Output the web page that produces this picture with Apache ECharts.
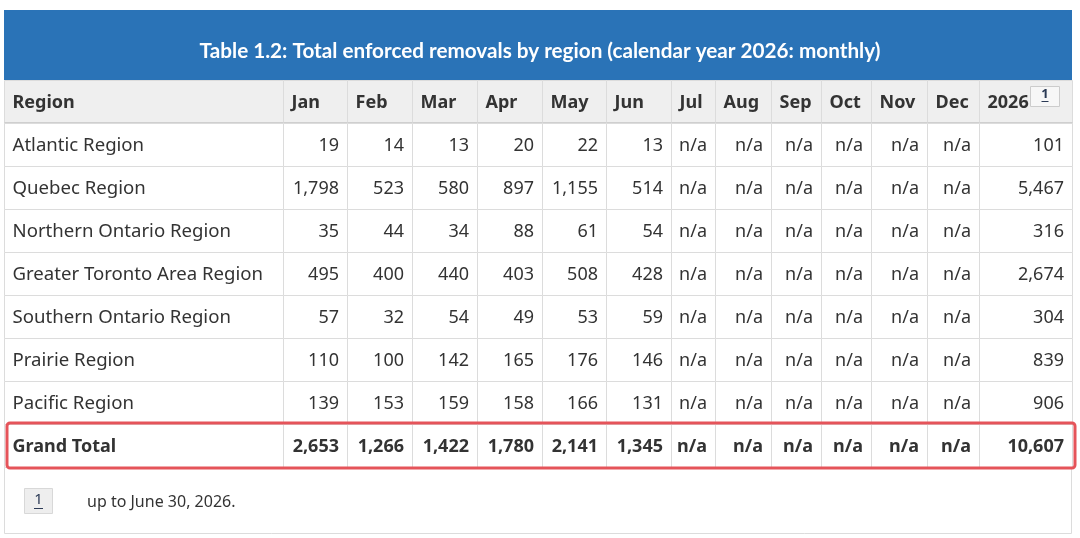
<!DOCTYPE html>
<html><head><meta charset="utf-8">
<script src="https://cdn.jsdelivr.net/npm/echarts@6/dist/echarts.min.js"></script>
<style>html,body{margin:0;padding:0;background:#fff}#c{width:1080px;height:538px}</style>
</head><body><div id="c"></div>
<script>
// ---------- data ----------
const titleText = 'Table 1.2: Total enforced removals by region (calendar year 2026: monthly)';
const firstHeader = 'Region';
const months = ['Jan','Feb','Mar','Apr','May','Jun','Jul','Aug','Sep','Oct','Nov','Dec'];
const yearHeader = '2026';
const regions = ['Atlantic Region','Quebec Region','Northern Ontario Region','Greater Toronto Area Region','Southern Ontario Region','Prairie Region','Pacific Region'];
// Jan..Dec (null = n/a)
const atlantic        = [19, 14, 13, 20, 22, 13, null, null, null, null, null, null];
const quebec          = [1798, 523, 580, 897, 1155, 514, null, null, null, null, null, null];
const northernOntario = [35, 44, 34, 88, 61, 54, null, null, null, null, null, null];
const greaterToronto  = [495, 400, 440, 403, 508, 428, null, null, null, null, null, null];
const southernOntario = [57, 32, 54, 49, 53, 59, null, null, null, null, null, null];
const prairie         = [110, 100, 142, 165, 176, 146, null, null, null, null, null, null];
const pacific         = [139, 153, 159, 158, 166, 131, null, null, null, null, null, null];
const yearTotals      = [101, 5467, 316, 2674, 304, 839, 906];
const totalLabel = 'Grand Total';
const grandTotal      = [2653, 1266, 1422, 1780, 2141, 1345, null, null, null, null, null, null];
const grandYearTotal  = 10607;
const footnoteMark = '1';
const footnoteText = 'up to June 30, 2026.';

// ---------- layout / style ----------
const colWidths = [279, 64, 65, 65, 65, 64, 65, 44, 56, 50, 50, 56, 52, 93];
const FONT = '"Noto Sans", "Open Sans", sans-serif';
const TEXT = '#333333';
const GRID_LINE = '#dcdcdc';
const colStart = [];
colWidths.reduce((acc, w, i) => { colStart[i] = acc; return acc + w; }, 0);
const totalWidth = colWidths.reduce((a, b) => a + b, 0);

const regionRows = [atlantic, quebec, northernOntario, greaterToronto, southernOntario, prairie, pacific];
const fmt = v => (v === null || v === undefined) ? 'n/a' : v.toLocaleString('en-US');

// cells: {col,row,text,kind}
const cells = [];
[firstHeader, ...months, yearHeader].forEach((h, i) => cells.push({col: i, row: 0, text: h, kind: 'head'}));
regions.forEach((r, ri) => {
  cells.push({col: 0, row: ri + 1, text: r, kind: 'label'});
  regionRows[ri].forEach((v, mi) => cells.push({col: mi + 1, row: ri + 1, text: fmt(v), kind: 'num'}));
  cells.push({col: 13, row: ri + 1, text: fmt(yearTotals[ri]), kind: 'num'});
});
const totRow = regions.length + 1;
cells.push({col: 0, row: totRow, text: totalLabel, kind: 'totlabel'});
grandTotal.forEach((v, mi) => cells.push({col: mi + 1, row: totRow, text: fmt(v), kind: 'totnum'}));
cells.push({col: 13, row: totRow, text: fmt(grandYearTotal), kind: 'totnum'});
const nRows = totRow + 1;

function renderCell(params, api) {
  const c = cells[params.dataIndex];
  const p0 = api.coord([colStart[c.col], c.row]);
  const p1 = api.coord([colStart[c.col] + colWidths[c.col], c.row + 1]);
  const x = Math.round(p0[0]) + 0.5, y = Math.round(p0[1]) + 0.5;
  const w = Math.round(p1[0]) - Math.round(p0[0]), h = Math.round(p1[1]) - Math.round(p0[1]);
  const isHead = c.kind === 'head';
  const bold = isHead || c.kind === 'totlabel' || c.kind === 'totnum';
  const rightAlign = c.kind === 'num' || c.kind === 'totnum';
  const children = [{
    type: 'rect',
    shape: {x: x, y: y, width: w, height: h},
    style: {fill: isHead ? '#efefef' : '#ffffff', stroke: GRID_LINE, lineWidth: 1}
  }, {
    type: 'text',
    style: {
      text: c.text,
      x: rightAlign ? x + w - 8.5 : x + 8,
      y: y + h / 2 + 1,
      align: rightAlign ? 'right' : 'left',
      verticalAlign: 'middle',
      fontFamily: FONT,
      fontSize: c.kind === 'label' ? 18.6 : 18,
      fontWeight: bold ? 'bold' : 'normal',
      fill: TEXT
    }
  }];
  if (isHead) {
    children.push({
      type: 'line',
      shape: {x1: x, y1: y + h - 0.5, x2: x + w, y2: y + h - 0.5},
      style: {stroke: '#cfcfcf', lineWidth: 2}
    });
  }
  if (isHead && c.col === 13) {
    // footnote reference box next to "2026"
    const bx = x + 51, by = y + 6;
    children.push({
      type: 'rect', shape: {x: bx, y: by, width: 29, height: 20},
      style: {fill: '#f7f7f7', stroke: '#cccccc', lineWidth: 1}
    }, {
      type: 'text',
      style: {text: footnoteMark, x: bx + 14.5, y: by + 8, align: 'center', verticalAlign: 'middle',
        fontFamily: FONT, fontSize: 13, fontWeight: 'bold', fill: '#2b3a55'}
    }, {
      type: 'line', shape: {x1: bx + 11, y1: by + 15, x2: bx + 18, y2: by + 15},
      style: {stroke: '#2b3a55', lineWidth: 1}
    });
  }
  return {type: 'group', children: children};
}

function renderHighlight(params, api) {
  const p0 = api.coord([0, totRow]);
  const p1 = api.coord([totalWidth, totRow + 1]);
  return {
    type: 'rect',
    shape: {x: p0[0] + 3, y: p0[1] - 1, width: p1[0] - p0[0], height: p1[1] - p0[1] + 2, r: 3},
    style: {fill: 'none', stroke: '#e5545a', lineWidth: 3}
  };
}

const chart = echarts.init(document.getElementById('c'), null, {renderer: 'canvas'});
chart.setOption({
  animation: false,
  backgroundColor: '#ffffff',
  title: {
    text: titleText, left: 'center', top: 36,
    textStyle: {color: '#ffffff', fontFamily: 'Lato, "Noto Sans", sans-serif', fontWeight: 'bold', fontSize: 20.7}
  },
  grid: {left: 4, top: 80, width: totalWidth, height: 43 * nRows, containLabel: false},
  xAxis: {type: 'value', min: 0, max: totalWidth, show: false},
  yAxis: {type: 'value', min: 0, max: nRows, inverse: true, show: false},
  graphic: [
    {type: 'rect', z: -1, shape: {x: 4, y: 10, width: totalWidth, height: 70}, style: {fill: '#2a73b7'}},
    {type: 'polyline', shape: {points: [[4.5, 467], [4.5, 533.5], [4 + totalWidth - 0.5, 533.5], [4 + totalWidth - 0.5, 467]]},
      style: {stroke: '#dcdcdc', lineWidth: 1, fill: null}},
    {type: 'rect', shape: {x: 24.5, y: 488.5, width: 28, height: 25}, style: {fill: '#eeeeee', stroke: '#d8d8d8', lineWidth: 1}},
    {type: 'text', style: {text: footnoteMark, x: 38.5, y: 500, align: 'center', verticalAlign: 'middle',
      fontFamily: FONT, fontSize: 15, fill: '#2b3a55'}},
    {type: 'line', shape: {x1: 34, y1: 508.5, x2: 43, y2: 508.5}, style: {stroke: '#2b3a55', lineWidth: 1}},
    {type: 'text', style: {text: footnoteText, x: 87, y: 502, align: 'left', verticalAlign: 'middle',
      fontFamily: FONT, fontSize: 16, fill: TEXT}}
  ],
  series: [
    {type: 'custom', coordinateSystem: 'cartesian2d', clip: false, silent: true,
      data: cells.map(c => [colStart[c.col], c.row]), renderItem: renderCell},
    {type: 'custom', coordinateSystem: 'cartesian2d', clip: false, silent: true, z: 5,
      data: [[0, totRow]], renderItem: renderHighlight}
  ]
});
</script>
</body></html>
